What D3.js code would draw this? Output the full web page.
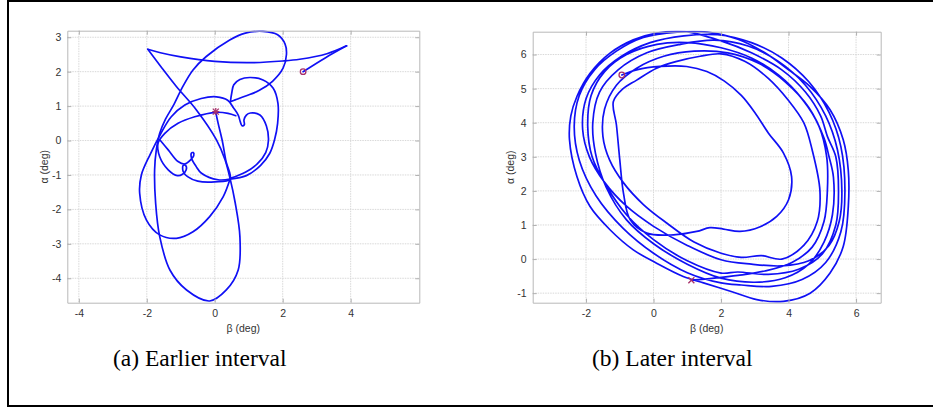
<!DOCTYPE html>
<html><head><meta charset="utf-8">
<script src="https://cdn.jsdelivr.net/npm/d3@7"></script>
<style>body{margin:0;background:#fff;} svg{display:block}</style>
</head><body><svg id="c" width="933" height="408"></svg>
<script>
// ---------- data ----------
const leftXTicks = [-4, -2, 0, 2, 4];
const leftYTicks = [-4, -3, -2, -1, 0, 1, 2, 3];
const rightXTicks = [-2, 0, 2, 4, 6];
const rightYTicks = [-1, 0, 1, 2, 3, 4, 5, 6];
const leftXDomain = [-4.34, 6.02];
const leftYDomain = [-4.71, 3.19];
const rightXDomain = [-3.58, 6.73];
const rightYDomain = [-1.28, 6.67];
const xLabel = "β (deg)";
const yLabel = "α (deg)";
const captions = ["(a) Earlier interval", "(b) Later interval"];

const leftStartPoint = [2.6, 2.0];
const leftEndPoint = [0.03, 0.84];
const rightStartPoint = [-0.94, 5.40];
const rightEndPoint = [1.12, -0.62];

// [beta, alpha]
const leftStrokeA = [[2.6,2.0],[3.25,2.4],[3.88,2.75]];
const leftStrokeB = [[3.88,2.75],[3.3,2.52],[2.5,2.36],[2.0,2.31],[1.0,2.26],[0.0,2.3],[-1.0,2.43],[-1.6,2.55],[-1.97,2.65]];
const leftStrokeC = [[-1.97,2.65],[-1.55,2.1],[-1.13,1.57],[-0.54,0.89],[0.05,0.02],[0.3,-0.55],[0.45,-1.1],[0.6,-1.8],[0.74,-2.79],[0.69,-3.76],[0.34,-4.34],[-0.15,-4.66],[-0.83,-4.34],[-1.32,-3.76],[-1.62,-2.79],[-1.74,-1.82],[-1.77,-0.85],[-1.72,-0.27],[-1.62,0.21],[-1.45,0.62],[-1.2,1.05],[-0.95,1.55],[-0.64,2.05],[-0.25,2.44],[0.44,2.92],[0.9,3.12],[1.42,3.17],[1.85,3.07],[2.07,2.8],[2.11,2.5],[2.01,2.1],[1.7,1.72],[1.3,1.45],[0.93,1.3],[0.6,1.18],[0.46,1.13]];
const leftStrokeD = [[0.46,1.13],[0.5,1.38],[0.56,1.62],[0.74,1.77],[1.03,1.83],[1.42,1.76],[1.72,1.52],[1.86,1.08],[1.85,0.5],[1.76,0.02],[1.62,-0.37],[1.35,-0.72],[0.93,-1.02],[0.45,-1.12]];
const leftStrokeE = [[0.45,-1.12],[0.25,-1.63],[-0.15,-2.21],[-0.64,-2.65],[-1.13,-2.84],[-1.62,-2.74],[-2.01,-2.31],[-2.21,-1.53],[-2.16,-1.0],[-1.9,-0.4],[-1.6,0.18],[-1.28,0.69],[-0.88,1.03],[-0.4,1.22],[0.05,1.27],[0.38,1.17],[0.55,0.95],[0.69,0.74],[0.75,0.55],[0.8,0.43],[0.87,0.46],[0.86,0.6],[0.93,0.74],[1.05,0.8],[1.33,0.74],[1.52,0.42],[1.58,0.0],[1.5,-0.35],[1.25,-0.68],[0.9,-0.92],[0.45,-1.1]];
const leftStrokeF = [[0.62,0.72],[0.39,0.79],[0.03,0.82],[-0.59,0.69],[-1.08,0.5],[-1.47,0.21],[-1.67,-0.08],[-1.62,-0.47],[-1.37,-0.85],[-1.1,-1.02],[-0.95,-0.98],[-0.84,-0.85],[-0.86,-0.72],[-0.93,-0.72],[-0.93,-0.9],[-0.8,-1.05],[-0.5,-1.18],[0.0,-1.2],[0.45,-1.12],[0.33,-0.6],[0.22,0.0],[0.1,0.5],[0.03,0.82]];
const leftStrokeG = [[-1.6,0.0],[-1.37,-0.27],[-1.08,-0.61],[-0.88,-0.68],[-0.7,-0.55],[-0.62,-0.44],[-0.63,-0.35],[-0.69,-0.37],[-0.68,-0.52],[-0.55,-0.75],[-0.39,-0.95],[0.1,-1.14],[0.45,-1.12]];
const leftStrokes = [leftStrokeA, leftStrokeB, leftStrokeC, leftStrokeD, leftStrokeE, leftStrokeF, leftStrokeG];

// [beta, alpha], loop by loop
const rightLoopKidney = [[-0.94,5.40],[-0.5,5.55],[0.19,5.65],[0.98,5.65],[1.58,5.50],[2.1,5.22],[2.6,4.8],[3.0,4.3],[3.4,3.7],[3.85,3.11],[4.09,2.42],[4.0,1.74],[3.65,1.25],[3.16,0.95],[2.56,0.81],[2.07,0.88],[1.67,0.92],[1.28,0.81],[0.59,0.71],[-0.2,0.76],[-0.69,1.15],[-0.89,1.93],[-1.0,2.91],[-1.1,3.94],[-1.19,4.62],[-0.9,5.0],[-0.5,5.25],[0.09,5.6],[0.69,5.8],[1.38,5.95],[2.0,6.02]];
const rightLoop7 = [[2.7,5.8],[3.4,5.3],[4.0,4.65],[4.45,4.0],[4.7,3.2],[4.93,2.0],[4.85,1.1],[4.45,0.4],[3.8,0.0],[3.2,0.1],[2.6,0.05],[2.0,0.17],[1.2,0.5],[0.4,1.05],[-0.3,1.6],[-0.9,2.25],[-1.3,2.9],[-1.5,3.6],[-1.45,4.4],[-1.1,5.1],[-0.5,5.6],[0.3,5.95],[1.2,6.1]];
const rightLoop5 = [[2.2,6.05],[3.1,5.75],[3.9,5.2],[4.6,4.45],[5.05,3.55],[5.2,3.0],[5.33,2.4],[5.3,1.3],[5.05,0.5],[4.6,-0.15],[3.9,-0.55],[3.0,-0.68],[2.0,-0.56],[1.0,-0.15],[0.0,0.45],[-0.8,1.15],[-1.4,2.1],[-1.72,3.1],[-1.8,4.0],[-1.6,4.9],[-1.05,5.55],[-0.2,6.05],[0.8,6.3]];
const rightLoop3 = [[1.8,6.42],[2.8,6.25],[3.7,5.8],[4.5,5.1],[5.1,4.2],[5.45,3.2],[5.58,2.0],[5.5,1.1],[5.2,0.4],[4.6,-0.05],[3.8,-0.2],[2.9,-0.15],[2.0,-0.02],[1.0,0.4],[0.0,0.96],[-0.8,1.55],[-1.45,2.25],[-1.9,3.0],[-2.1,3.8],[-2.0,4.7],[-1.6,5.4],[-0.95,5.95],[-0.1,6.35],[0.9,6.55]];
const rightLoop2 = [[1.9,6.58],[2.9,6.35],[3.8,5.9],[4.6,5.2],[5.2,4.3],[5.55,3.3],[5.67,2.0],[5.55,0.8],[5.1,-0.1],[4.4,-0.6],[3.5,-0.8],[2.6,-0.76],[2.0,-0.7],[1.0,-0.4],[0.0,0.17],[-0.9,0.9],[-1.7,1.85],[-2.2,2.9],[-2.35,3.9],[-2.2,4.8],[-1.75,5.55],[-1.1,6.1],[-0.3,6.5],[0.7,6.66]];
const rightLoop1 = [[1.6,6.66],[2.5,6.45],[3.3,6.05],[4.0,5.55],[4.64,5.06],[5.23,4.38],[5.62,3.5],[5.77,2.6],[5.77,1.54],[5.62,0.37],[5.23,-0.41],[4.64,-1.0],[3.85,-1.24],[3.06,-1.19],[2.3,-0.95],[1.48,-0.7],[0.88,-0.51],[0.09,-0.12],[-0.6,0.27],[-1.29,0.86],[-1.88,1.54],[-2.27,2.42],[-2.49,3.5],[-2.45,4.2],[-2.27,4.77],[-1.88,5.45],[-1.29,6.04],[-0.6,6.43],[0.09,6.63],[0.9,6.68]];
const rightLoop4 = [[2.0,6.4],[2.9,6.05],[3.8,5.55],[4.5,4.9],[4.95,4.2],[5.15,3.6],[5.4,3.0],[5.48,2.0],[5.4,1.0],[5.0,0.15],[4.3,-0.3],[3.4,-0.45],[2.5,-0.38],[2.0,-0.41],[1.0,-0.05],[0.0,0.57],[-0.8,1.3],[-1.4,2.15],[-1.82,3.0],[-1.95,3.9],[-1.85,4.8],[-1.45,5.5],[-0.8,6.0],[0.1,6.3],[1.0,6.35]];
const rightLoop6 = [[2.0,6.2],[2.9,5.9],[3.7,5.4],[4.4,4.7],[4.9,3.9],[5.13,3.0],[5.15,2.0],[5.05,1.1],[4.7,0.35],[4.1,-0.1],[3.3,-0.35],[2.5,-0.48],[1.8,-0.56],[1.12,-0.62]];
const rightPath = [].concat(rightLoopKidney, rightLoop7, rightLoop5, rightLoop3, rightLoop2, rightLoop1, rightLoop4, rightLoop6);

// ---------- drawing ----------
const svg = d3.select("#c");
svg.append("rect").attr("x", 8).attr("y", 1).attr("width", 940).attr("height", 405)
  .attr("fill", "none").attr("stroke", "#000").attr("stroke-width", 2);

const lineColor = "#1010f5";
const markColor = "#a8306a";
const tickFont = "'Liberation Sans', Arial, sans-serif";

function panel(id, box, xDom, yDom, xTicks, yTicks, strokes, start, end, endSym, caption, capX) {
  const x = d3.scaleLinear().domain(xDom).range([box.x0, box.x1]);
  const y = d3.scaleLinear().domain(yDom).range([box.y1, box.y0]);
  const g = svg.append("g");

  // grid
  g.append("g").selectAll("line").data(xTicks).join("line")
    .attr("x1", d => x(d)).attr("x2", d => x(d)).attr("y1", box.y0).attr("y2", box.y1)
    .attr("stroke", "#d8d8d8").attr("stroke-width", 1).attr("stroke-dasharray", "1.5,1");
  g.append("g").selectAll("line").data(yTicks).join("line")
    .attr("y1", d => y(d)).attr("y2", d => y(d)).attr("x1", box.x0).attr("x2", box.x1)
    .attr("stroke", "#d8d8d8").attr("stroke-width", 1).attr("stroke-dasharray", "1.5,1");

  // curves
  const clipId = "clip" + id;
  svg.append("clipPath").attr("id", clipId).append("rect")
    .attr("x", box.x0).attr("y", box.y0 - 1).attr("width", box.x1 - box.x0).attr("height", box.y1 - box.y0 + 2);
  const line = d3.line().x(d => x(d[0])).y(d => y(d[1])).curve(d3.curveCatmullRom.alpha(0.5));
  g.append("g").attr("clip-path", `url(#${clipId})`).selectAll("path").data(strokes).join("path")
    .attr("d", line).attr("fill", "none").attr("stroke", lineColor)
    .attr("stroke-width", 1.7).attr("stroke-linejoin", "round").attr("stroke-linecap", "round");

  // axes
  const styleAxis = sel => {
    sel.select(".domain").attr("stroke", "#b8b8b8");
    sel.selectAll(".tick line").attr("stroke", "#b0b0b0");
    sel.selectAll(".tick text").attr("fill", "#333").attr("font-size", 10.5).attr("font-family", tickFont);
  };
  g.append("g").attr("transform", `translate(0,${box.y1})`)
    .call(d3.axisBottom(x).tickValues(xTicks).tickSize(-4).tickSizeOuter(0).tickPadding(7).tickFormat(d3.format("d")))
    .call(styleAxis);
  g.append("g").attr("transform", `translate(0,${box.y0})`)
    .call(d3.axisTop(x).tickValues(xTicks).tickSize(-4).tickSizeOuter(0).tickFormat(""))
    .call(styleAxis);
  g.append("g").attr("transform", `translate(${box.x0},0)`)
    .call(d3.axisLeft(y).tickValues(yTicks).tickSize(-4).tickSizeOuter(0).tickPadding(6).tickFormat(d3.format("d")))
    .call(styleAxis);
  g.append("g").attr("transform", `translate(${box.x1},0)`)
    .call(d3.axisRight(y).tickValues(yTicks).tickSize(-4).tickSizeOuter(0).tickFormat(""))
    .call(styleAxis);
  g.selectAll(".tick text").text(function(){ return this.textContent.replace("−", "-"); });

  // labels
  g.append("text").attr("x", (box.x0 + box.x1) / 2).attr("y", box.y1 + 29)
    .attr("text-anchor", "middle").attr("font-size", 10.5).attr("font-family", tickFont).attr("fill", "#333")
    .text(xLabel);
  g.append("text").attr("transform", `translate(${box.x0 - 19},${(box.y0 + box.y1) / 2}) rotate(-90)`)
    .attr("text-anchor", "middle").attr("font-size", 10.5).attr("font-family", tickFont).attr("fill", "#333")
    .text(yLabel);

  // markers
  g.append("circle").attr("cx", x(start[0])).attr("cy", y(start[1])).attr("r", 2.8)
    .attr("fill", "none").attr("stroke", markColor).attr("stroke-width", 1.3);
  const ex = x(end[0]), ey = y(end[1]), s = 3;
  const m = g.append("g").attr("stroke", markColor).attr("stroke-width", 1.3);
  m.append("line").attr("x1", ex - s).attr("y1", ey - s).attr("x2", ex + s).attr("y2", ey + s);
  m.append("line").attr("x1", ex - s).attr("y1", ey + s).attr("x2", ex + s).attr("y2", ey - s);
  if (endSym === "*") {
    m.append("line").attr("x1", ex).attr("y1", ey - s - 0.5).attr("x2", ex).attr("y2", ey + s + 0.5);
    m.append("line").attr("x1", ex - s - 0.5).attr("y1", ey).attr("x2", ex + s + 0.5).attr("y2", ey);
  }

  // caption
  svg.append("text").attr("x", capX).attr("y", 366)
    .attr("font-family", "'Liberation Serif', 'Times New Roman', serif").attr("font-size", 23.5).attr("fill", "#000")
    .text(caption);
}

panel("L", {x0: 67.3, x1: 419.3, y0: 30.7, y1: 302.7}, leftXDomain, leftYDomain, leftXTicks, leftYTicks,
  leftStrokes, leftStartPoint, leftEndPoint, "*", captions[0], 113);
panel("R", {x0: 532.7, x1: 880.7, y0: 31.7, y1: 302.7}, rightXDomain, rightYDomain, rightXTicks, rightYTicks,
  [rightPath], rightStartPoint, rightEndPoint, "x", captions[1], 592);
</script></body></html>
